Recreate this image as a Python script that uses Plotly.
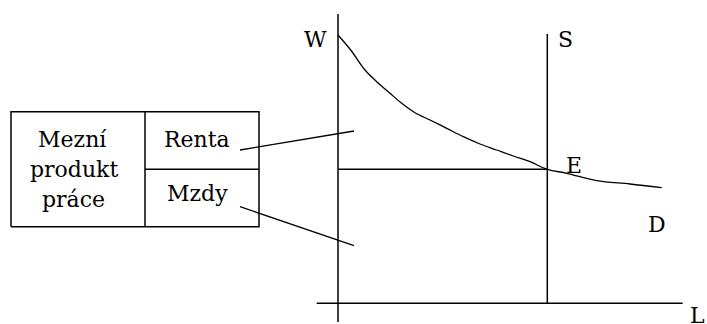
import plotly.graph_objects as go

# Diagram coordinates: L (labour) on x, W (wage) on y; origin at the axes crossing
demand_L = [0, 12.7, 27, 38.7, 52, 63.7, 77, 92, 108.7, 125.3, 142, 158.7, 175.3, 192, 209.3, 228.7, 258.7, 292, 323.7]
demand_W = [268.3, 253.3, 233.3, 221.6, 210, 200, 190.6, 183.3, 175, 166.6, 159.3, 153.3, 147.3, 141.6, 134, 130, 122.6, 119.3, 115.6]

supply_L = [209.3, 209.3]
supply_W = [0, 269.3]

wage_L = [0, 209.3]
wage_W = [134, 134]

w_axis_L = [0, 0]
w_axis_W = [-18.7, 289.3]
l_axis_L = [-21.3, 344.7]
l_axis_W = [0, 0]

renta_ptr_L = [-98, 16]
renta_ptr_W = [153.3, 172.3]
mzdy_ptr_L = [-98, 16]
mzdy_ptr_W = [96.6, 57.6]

# table box edges
box_L = [-327, -193, -79]
box_W = [76.6, 134, 191.6]

box_texts = ["Mezní", "produkt", "práce", "Renta", "Mzdy"]
box_text_L = [-266, -264, -265, -141, -141]
box_text_W = [164, 134, 104, 164, 110]

axis_labels = ["W", "S", "E", "D", "L"]
axis_label_L = [-23, 227, 236, 319, 359]
axis_label_W = [263.5, 264, 138, 79, -12.5]

fig = go.Figure()

def seg(x, y, w=1.5, shape="linear"):
    fig.add_trace(go.Scatter(x=x, y=y, mode="lines",
                             line=dict(color="black", width=w, shape=shape),
                             hoverinfo="skip", showlegend=False))

seg(w_axis_L, w_axis_W)
seg(l_axis_L, l_axis_W)
seg(supply_L, supply_W)
seg(wage_L, wage_W)
seg(demand_L, demand_W, 1.3, "spline")
seg(renta_ptr_L, renta_ptr_W, 1.3)
seg(mzdy_ptr_L, mzdy_ptr_W, 1.3)

# box outline and dividers
seg([box_L[0], box_L[2], box_L[2], box_L[0], box_L[0]],
    [box_W[0], box_W[0], box_W[2], box_W[2], box_W[0]])
seg([box_L[1], box_L[1]], [box_W[0], box_W[2]])
seg([box_L[1], box_L[2]], [box_W[1], box_W[1]])

font = dict(family="DejaVu Serif, Liberation Serif, serif", size=22, color="black")
for t, x, y in zip(box_texts, box_text_L, box_text_W):
    fig.add_annotation(x=x, y=y, text=t, showarrow=False, font=font,
                       xanchor="center", yanchor="middle")
for t, x, y in zip(axis_labels, axis_label_L, axis_label_W):
    fig.add_annotation(x=x, y=y, text=t, showarrow=False, font=font,
                       xanchor="center", yanchor="middle")

fig.update_layout(
    width=707, height=324,
    margin=dict(l=0, r=0, t=0, b=0),
    paper_bgcolor="white", plot_bgcolor="white",
    xaxis=dict(range=[-338, 369], visible=False, fixedrange=True),
    yaxis=dict(range=[-20.7, 303.3], visible=False, fixedrange=True),
)

fig.write_html("out.html", post_script="document.body.style.margin='0';document.body.style.overflow='hidden';",
               config={"displayModeBar": False})
